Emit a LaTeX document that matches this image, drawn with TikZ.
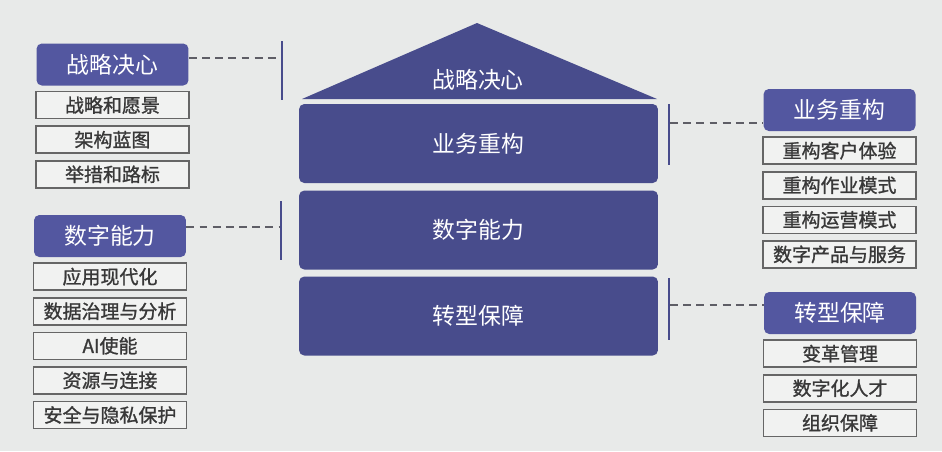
\documentclass[tikz,border=0pt]{standalone}
\usepackage{fontspec}
\setmainfont{Noto Sans CJK SC}
\newfontfamily\itemfont[FakeBold=1.2]{Noto Sans CJK SC}
\usepackage{tikz}
\usetikzlibrary{positioning}

\definecolor{pagebg}{HTML}{E8EAE9}
\definecolor{layerblue}{HTML}{484C8C}
\definecolor{headblue}{HTML}{5357A0}
\definecolor{subline}{HTML}{666666}
\definecolor{subfill}{HTML}{F1F2F1}
\definecolor{subtext}{HTML}{383838}
\definecolor{dashgray}{HTML}{5E5E66}

\begin{document}
\begin{tikzpicture}[
    x=0.02cm, y=-0.02cm,
    layer/.style={rectangle, fill=layerblue, rounded corners=3pt, minimum width=7.18cm, minimum height=1.58cm, inner sep=0pt, text=white, font=\fontsize{13}{15}\selectfont},
    header/.style={rectangle, fill=headblue, rounded corners=3pt, minimum width=3.04cm, minimum height=0.84cm, inner sep=0pt, text=white, font=\fontsize{13}{15}\selectfont},
    item/.style={rectangle, draw=subline, line width=0.9pt, fill=subfill, minimum width=3.06cm, minimum height=0.54cm, inner sep=0pt, text=subtext, font=\itemfont\fontsize{10.8}{12}\selectfont},
    bar/.style={draw=layerblue, line width=1.6pt},
    dashline/.style={draw=dashgray, line width=0.8pt, dash pattern=on 4.5pt off 3pt}
]

% Page
\fill[pagebg] (0,0) rectangle (942,451);
\useasboundingbox (0,0) rectangle (942,451);

% House
\fill[layerblue] (302,99) -- (477,23) -- (657,99) -- cycle;
\node[text=white, font=\fontsize{13}{15}\selectfont] (roofText) at (478,80) {战略决心};
\node[layer] (bizBox) at (478.5,143.5) {业务重构};
\node[layer] (digBox) at (478.5,230) {数字能力};
\node[layer] (guaBox) at (478.5,316) {转型保障};

% Left: Strategy
\node[header] (hdStrategy) at (112.5,64.5) {战略决心};
\node[item, below=0.1cm of hdStrategy] (vision) {战略和愿景};
\node[item, below=0.12cm of vision] (blueprint) {架构蓝图};
\node[item, below=0.12cm of blueprint] (roadmap) {举措和路标};

% Left: Digital capability
\node[header] (hdDigital) at (110,236) {数字能力};
\node[item, below=0.1cm of hdDigital] (appmod) {应用现代化};
\node[item, below=0.12cm of appmod] (datagov) {数据治理与分析};
\node[item, below=0.12cm of datagov] (aienable) {AI使能};
\node[item, below=0.12cm of aienable] (resource) {资源与连接};
\node[item, below=0.12cm of resource] (security) {安全与隐私保护};

% Right: Business rebuild
\node[header] (hdBusiness) at (839.5,110) {业务重构};
\node[item, below=0.1cm of hdBusiness] (custexp) {重构客户体验};
\node[item, below=0.12cm of custexp] (workmode) {重构作业模式};
\node[item, below=0.12cm of workmode] (opsmode) {重构运营模式};
\node[item, below=0.12cm of opsmode] (products) {数字产品与服务};

% Right: Transformation support
\node[header] (hdSupport) at (840,313) {转型保障};
\node[item, below=0.1cm of hdSupport] (change) {变革管理};
\node[item, below=0.12cm of change] (talent) {数字化人才};
\node[item, below=0.12cm of talent] (org) {组织保障};

% Brackets
\draw[bar] (282,41) -- (282,100);
\draw[bar] (281,201) -- (281,260);
\draw[bar] (669,104) -- (669,165);
\draw[bar] (669,278) -- (669,340);
\coordinate (barA) at (281,58);
\coordinate (barB) at (280,227);
\coordinate (barC) at (670,123);
\coordinate (barD) at (670,305);

% Dashed links
\draw[dashline] (hdStrategy.east |- barA) -- (barA);
\draw[dashline] (hdDigital.east |- barB) -- (barB);
\draw[dashline] (barC) -- (hdBusiness.west |- barC);
\draw[dashline] (barD) -- (hdSupport.west |- barD);

\end{tikzpicture}
\end{document}
